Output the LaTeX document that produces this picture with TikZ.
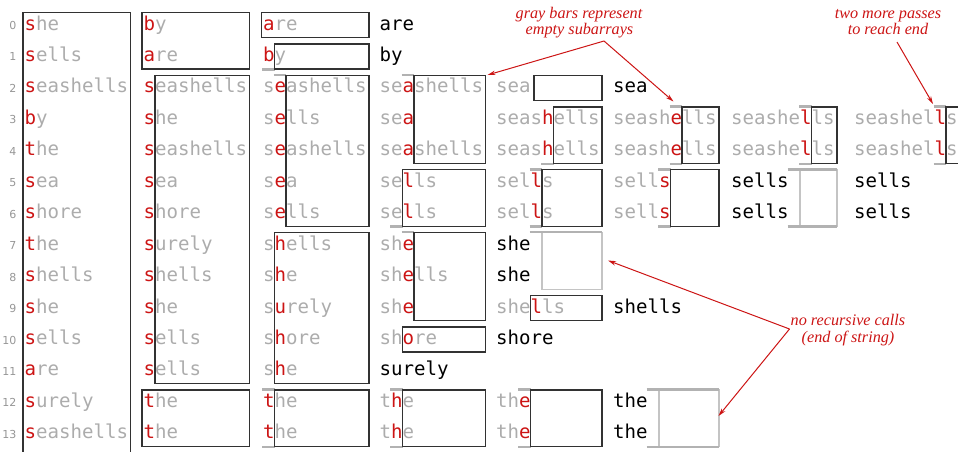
\documentclass[tikz,border=0pt]{standalone}
\usepackage{fontspec}
\usetikzlibrary{arrows.meta}
\newfontfamily\monof{DejaVu Sans Mono}
\newfontfamily\notef{Liberation Serif}
\newfontfamily\idxf{DejaVu Sans}
\definecolor{tred}{RGB}{204,20,20}
\definecolor{tgray}{RGB}{172,172,172}
\definecolor{boxc}{RGB}{50,50,50}
\definecolor{barc}{RGB}{178,178,178}
\definecolor{lightc}{RGB}{196,196,196}
\definecolor{idxc}{RGB}{150,150,150}
% character width of the monospaced font and column origins
\newcommand\cw{11.5}
\newcommand\posA{24.5}
\newcommand\posB{143.5}
\newcommand\posC{263}
\newcommand\posD{379.5}
\newcommand\posE{496}
\newcommand\posF{613}
\newcommand\posG{731}
\newcommand\posH{854}
% a key with one highlighted character: name, x, row, before, key char, after
\newcommand\wrd[6]{\node[word] (#1) at (#2,{30+31.45*#3}) {\textcolor{tgray}{#4}\textcolor{tred}{#5}\textcolor{tgray}{#6}};}
% a key in final position
\newcommand\done[4]{\node[word,text=black] (#1) at (#2,{30+31.45*#3}) {#4};}
% a key drawn all in gray
\newcommand\pale[4]{\node[word,text=tgray] (#1) at (#2,{30+31.45*#3}) {#4};}
% subarray box: column x, first char index, first row, last row
\newcommand\subbox[4]{\draw[sbox] ({#1+#2*\cw-1.5*(#2==0)},{30+31.45*#3-17.5}) rectangle ({#1+9*\cw+2.5},{30+31.45*#4+7.5});}
% empty subarray bars above / below a box
\newcommand\tbar[3]{\draw[gbar] ({#1+(#2-1)*\cw-1},{30+31.45*#3-18}) -- ({#1+#2*\cw},{30+31.45*#3-18});}
\newcommand\bbar[3]{\draw[gbar] ({#1+(#2-1)*\cw-1},{30+31.45*#3+8}) -- ({#1+#2*\cw},{30+31.45*#3+8});}
\begin{document}
\begin{tikzpicture}[x=1pt,y=-1pt,
  word/.style={anchor=base west,inner sep=0pt,font=\monof\fontsize{19.1}{22}\selectfont},
  idx/.style={anchor=base east,inner sep=0pt,text=idxc,font=\idxf\fontsize{11}{13}\selectfont},
  note/.style={anchor=base,inner sep=0pt,text=tred,font=\notef\itshape\fontsize{16.2}{18}\selectfont},
  sbox/.style={draw=boxc,line width=1.3pt},
  gbar/.style={draw=barc,line width=2.6pt},
  lbox/.style={draw=lightc,line width=1.2pt},
  callout/.style={draw=tred,line width=1pt,-{Stealth[length=8pt,width=4.5pt]}}]
\useasboundingbox (0,0) rectangle (958,451);

% ---------- empty-subarray bars ----------
\bbar{\posC}{1}{1}
\tbar{\posC}{2}{2}
\tbar{\posC}{1}{12}
\bbar{\posC}{1}{13}
\tbar{\posD}{3}{2}
\bbar{\posD}{2}{6}
\tbar{\posD}{3}{7}
\tbar{\posD}{2}{12}
\bbar{\posD}{2}{13}
\bbar{\posE}{5}{4}
\tbar{\posE}{4}{5}
\bbar{\posE}{4}{6}
\tbar{\posE}{3}{12}
\bbar{\posE}{3}{13}
\tbar{\posF}{6}{3}
\bbar{\posF}{6}{4}
\tbar{\posF}{5}{5}
\bbar{\posF}{5}{6}
\tbar{\posG}{7}{3}
\bbar{\posG}{7}{4}
\tbar{\posH}{8}{3}
\bbar{\posH}{8}{4}

% ---------- end-of-string subarrays (no recursive call) ----------
\draw[lbox] ({\posE+4*\cw},{30+31.45*7-17.5}) rectangle ({\posE+9*\cw+2.5},{30+31.45*8+7.5});
\draw[gbar] ({\posE+3*\cw-1},{30+31.45*7-18}) -- ({\posE+9*\cw+2.5},{30+31.45*7-18});
\draw[lbox] ({\posF+4*\cw},{30+31.45*12-17.5}) rectangle ({\posF+9*\cw+2.5},{30+31.45*13+7.5});
\draw[gbar] ({\posF+3*\cw-1},{30+31.45*12-18}) -- ({\posF+9*\cw+2.5},{30+31.45*12-18});
\draw[gbar] ({\posF+3*\cw-1},{30+31.45*13+8}) -- ({\posF+9*\cw+2.5},{30+31.45*13+8});
\draw[lbox] ({\posG+6*\cw},{30+31.45*5-17.5}) rectangle ({\posG+9*\cw+2.5},{30+31.45*6+7.5});
\draw[gbar] ({\posG+5*\cw-1},{30+31.45*5-18}) -- ({\posG+9*\cw+2.5},{30+31.45*5-18});
\draw[gbar] ({\posG+5*\cw-1},{30+31.45*6+8}) -- ({\posG+9*\cw+2.5},{30+31.45*6+8});

% ---------- subarray boxes ----------
\draw[sbox] ({\posA-1.5},12.5) rectangle ({\posA+9*\cw+2.5},456);
\subbox{\posB}{0}{0}{1}
\subbox{\posB}{1}{2}{11}
\subbox{\posB}{0}{12}{13}
\subbox{\posC}{0}{0}{0}
\subbox{\posC}{1}{1}{1}
\subbox{\posC}{2}{2}{6}
\subbox{\posC}{1}{7}{11}
\subbox{\posC}{1}{12}{13}
\subbox{\posD}{3}{2}{4}
\subbox{\posD}{2}{5}{6}
\subbox{\posD}{3}{7}{9}
\subbox{\posD}{2}{10}{10}
\subbox{\posD}{2}{12}{13}
\draw[sbox] (534,{30+31.45*2-17.5}) rectangle ({\posE+9*\cw+2.5},{30+31.45*2+7.5});
\subbox{\posE}{5}{3}{4}
\subbox{\posE}{4}{5}{6}
\subbox{\posE}{3}{9}{9}
\subbox{\posE}{3}{12}{13}
\subbox{\posF}{6}{3}{4}
\subbox{\posF}{5}{5}{6}
\subbox{\posG}{7}{3}{4}
\subbox{\posH}{8}{3}{4}

% ---------- row indices ----------
\foreach \r in {0,...,13} {\node[idx] (n\r) at (16.5,{29.5+31.45*\r}) {\r};}

% ---------- column 0: input ----------
\wrd{c0r0}{\posA}{0}{}{s}{he}
\wrd{c0r1}{\posA}{1}{}{s}{ells}
\wrd{c0r2}{\posA}{2}{}{s}{eashells}
\wrd{c0r3}{\posA}{3}{}{b}{y}
\wrd{c0r4}{\posA}{4}{}{t}{he}
\wrd{c0r5}{\posA}{5}{}{s}{ea}
\wrd{c0r6}{\posA}{6}{}{s}{hore}
\wrd{c0r7}{\posA}{7}{}{t}{he}
\wrd{c0r8}{\posA}{8}{}{s}{hells}
\wrd{c0r9}{\posA}{9}{}{s}{he}
\wrd{c0r10}{\posA}{10}{}{s}{ells}
\wrd{c0r11}{\posA}{11}{}{a}{re}
\wrd{c0r12}{\posA}{12}{}{s}{urely}
\wrd{c0r13}{\posA}{13}{}{s}{eashells}

% ---------- column 1 ----------
\wrd{c1r0}{\posB}{0}{}{b}{y}
\wrd{c1r1}{\posB}{1}{}{a}{re}
\wrd{c1r2}{\posB}{2}{}{s}{eashells}
\wrd{c1r3}{\posB}{3}{}{s}{he}
\wrd{c1r4}{\posB}{4}{}{s}{eashells}
\wrd{c1r5}{\posB}{5}{}{s}{ea}
\wrd{c1r6}{\posB}{6}{}{s}{hore}
\wrd{c1r7}{\posB}{7}{}{s}{urely}
\wrd{c1r8}{\posB}{8}{}{s}{hells}
\wrd{c1r9}{\posB}{9}{}{s}{he}
\wrd{c1r10}{\posB}{10}{}{s}{ells}
\wrd{c1r11}{\posB}{11}{}{s}{ells}
\wrd{c1r12}{\posB}{12}{}{t}{he}
\wrd{c1r13}{\posB}{13}{}{t}{he}

% ---------- column 2 ----------
\wrd{c2r0}{\posC}{0}{}{a}{re}
\wrd{c2r1}{\posC}{1}{}{b}{y}
\wrd{c2r2}{\posC}{2}{s}{e}{ashells}
\wrd{c2r3}{\posC}{3}{s}{e}{lls}
\wrd{c2r4}{\posC}{4}{s}{e}{ashells}
\wrd{c2r5}{\posC}{5}{s}{e}{a}
\wrd{c2r6}{\posC}{6}{s}{e}{lls}
\wrd{c2r7}{\posC}{7}{s}{h}{ells}
\wrd{c2r8}{\posC}{8}{s}{h}{e}
\wrd{c2r9}{\posC}{9}{s}{u}{rely}
\wrd{c2r10}{\posC}{10}{s}{h}{ore}
\wrd{c2r11}{\posC}{11}{s}{h}{e}
\wrd{c2r12}{\posC}{12}{}{t}{he}
\wrd{c2r13}{\posC}{13}{}{t}{he}

% ---------- column 3 ----------
\done{c3r0}{\posD}{0}{are}
\done{c3r1}{\posD}{1}{by}
\wrd{c3r2}{\posD}{2}{se}{a}{shells}
\wrd{c3r3}{\posD}{3}{se}{a}{}
\wrd{c3r4}{\posD}{4}{se}{a}{shells}
\wrd{c3r5}{\posD}{5}{se}{l}{ls}
\wrd{c3r6}{\posD}{6}{se}{l}{ls}
\wrd{c3r7}{\posD}{7}{sh}{e}{}
\wrd{c3r8}{\posD}{8}{sh}{e}{lls}
\wrd{c3r9}{\posD}{9}{sh}{e}{}
\wrd{c3r10}{\posD}{10}{sh}{o}{re}
\done{c3r11}{\posD}{11}{surely}
\wrd{c3r12}{\posD}{12}{t}{h}{e}
\wrd{c3r13}{\posD}{13}{t}{h}{e}

% ---------- column 4 ----------
\pale{c4r2}{\posE}{2}{sea}
\wrd{c4r3}{\posE}{3}{seas}{h}{ells}
\wrd{c4r4}{\posE}{4}{seas}{h}{ells}
\wrd{c4r5}{\posE}{5}{sel}{l}{s}
\wrd{c4r6}{\posE}{6}{sel}{l}{s}
\done{c4r7}{\posE}{7}{she}
\done{c4r8}{\posE}{8}{she}
\wrd{c4r9}{\posE}{9}{she}{l}{ls}
\done{c4r10}{\posE}{10}{shore}
\wrd{c4r12}{\posE}{12}{th}{e}{}
\wrd{c4r13}{\posE}{13}{th}{e}{}

% ---------- column 5 ----------
\done{c5r2}{\posF}{2}{sea}
\wrd{c5r3}{\posF}{3}{seash}{e}{lls}
\wrd{c5r4}{\posF}{4}{seash}{e}{lls}
\wrd{c5r5}{\posF}{5}{sell}{s}{}
\wrd{c5r6}{\posF}{6}{sell}{s}{}
\done{c5r9}{\posF}{9}{shells}
\done{c5r12}{\posF}{12}{the}
\done{c5r13}{\posF}{13}{the}

% ---------- column 6 ----------
\wrd{c6r3}{\posG}{3}{seashe}{l}{ls}
\wrd{c6r4}{\posG}{4}{seashe}{l}{ls}
\done{c6r5}{\posG}{5}{sells}
\done{c6r6}{\posG}{6}{sells}

% ---------- column 7 ----------
\wrd{c7r3}{\posH}{3}{seashel}{l}{s}
\wrd{c7r4}{\posH}{4}{seashel}{l}{s}
\done{c7r5}{\posH}{5}{sells}
\done{c7r6}{\posH}{6}{sells}

% ---------- annotations ----------
\node[note] (ga1) at (579,18) {gray bars represent};
\node[note] (ga2) at (579.5,34.5) {empty subarrays};
\node[note] (tm1) at (888,18) {two more passes};
\node[note] (tm2) at (888,34.5) {to reach end};
\node[note] (nr1) at (848,325.5) {no recursive calls};
\node[note] (nr2) at (848,342) {(end of string)};

\coordinate (gfork) at (604,41);
\coordinate (gtipA) at (487.5,75);
\coordinate (gtipB) at (673.5,101.5);
\coordinate (tfork) at (897,42);
\coordinate (ttip) at (933,104);
\coordinate (nfork) at (789.5,329);
\coordinate (ntipA) at (608,260.5);
\coordinate (ntipB) at (718.5,416);

\draw[callout] (gfork) -- (gtipA);
\draw[callout] (gfork) -- (gtipB);
\draw[callout] (tfork) -- (ttip);
\draw[callout] (nfork) -- (ntipA);
\draw[callout] (nfork) -- (ntipB);
\end{tikzpicture}
\end{document}
